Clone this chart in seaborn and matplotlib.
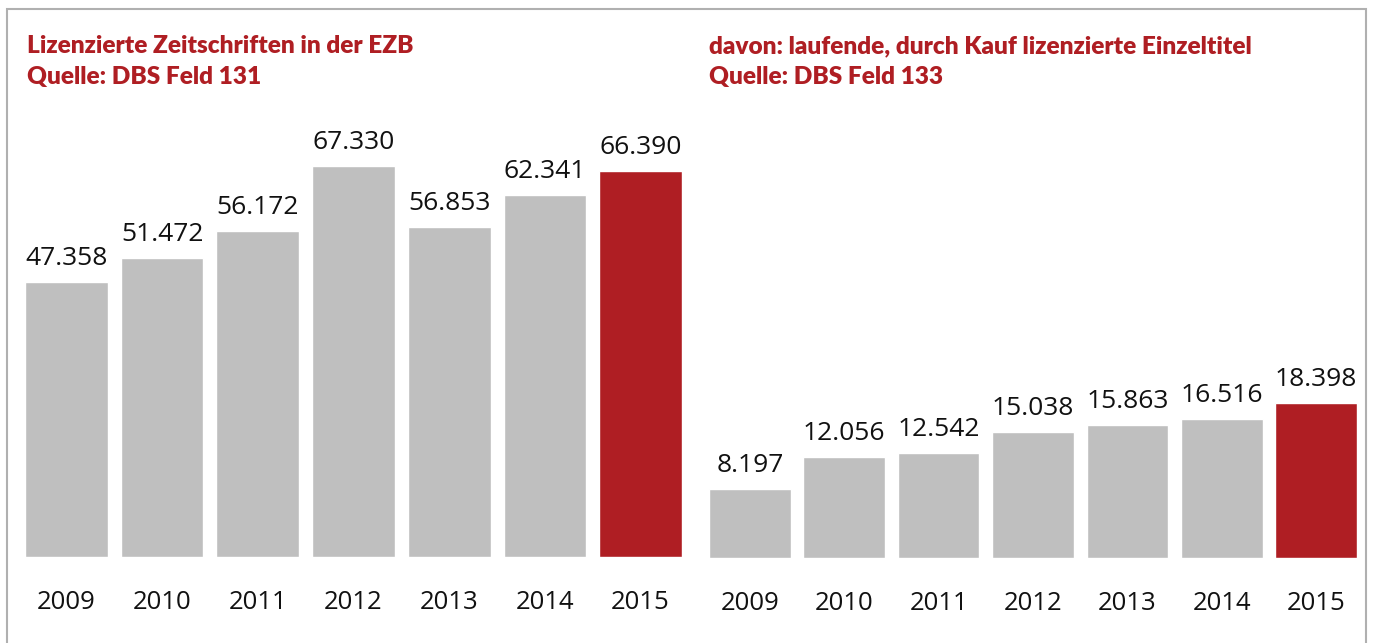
import matplotlib
matplotlib.use("Agg")
import matplotlib.pyplot as plt
import seaborn as sns
import pandas as pd
from matplotlib.patches import Rectangle

years = ["2009", "2010", "2011", "2012", "2013", "2014", "2015"]
zeitschriften = [47358, 51472, 56172, 67330, 56853, 62341, 66390]
einzeltitel = [8197, 12056, 12542, 15038, 15863, 16516, 18398]

title_left = "Lizenzierte Zeitschriften in der EZB\nQuelle: DBS Feld 131"
title_right = "davon: laufende, durch Kauf lizenzierte Einzeltitel\nQuelle: DBS Feld 133"

GRAY = "#bfbfbf"
RED = "#af1e23"

sns.set_style("white")
plt.rcParams["font.family"] = ["Open Sans", "DejaVu Sans"]

fig = plt.figure(figsize=(13.73, 6.43), dpi=100)
W, H = 1373, 643


def px_axes(x0, x1, y_top, y_base):
    return fig.add_axes([x0 / W, 1 - y_base / H, (x1 - x0) / W, (y_base - y_top) / H])


def draw_panel(ax, values, ymax):
    df = pd.DataFrame({"year": years, "value": values})
    palette = [GRAY] * (len(years) - 1) + [RED]
    sns.barplot(data=df, x="year", y="value", hue="year", palette=palette,
                legend=False, width=0.865, saturation=1, ax=ax)
    for c in ax.containers:
        labels = [f"{v:,.0f}".replace(",", ".") for v in c.datavalues]
        ax.bar_label(c, labels=labels, padding=8, fontsize=19, color="#111111")
    ax.set_xlim(-0.4325, 6.4325)
    ax.set_ylim(0, ymax)
    ax.set_xlabel("")
    ax.set_ylabel("")
    ax.set_yticks([])
    ax.tick_params(axis="x", length=0, pad=24, labelsize=18.5, labelcolor="#111111")
    sns.despine(ax=ax, left=True, bottom=True)
    ax.patch.set_alpha(0)


ax1 = px_axes(25, 682, 100, 557)
draw_panel(ax1, zeitschriften, 457 / 5.807 * 1000)

ax2 = px_axes(709, 1357, 100, 558)
draw_panel(ax2, einzeltitel, 458 / 8.4 * 1000)

title_font = dict(family=["Lato", "DejaVu Sans"], fontsize=17.6,
                  fontweight="heavy", color=RED, va="baseline", linespacing=1.5)
fig.text(27 / W, 1 - 84 / H, title_left, **title_font)
fig.text(709 / W, 1 - 84 / H, title_right, **title_font)

# frame around the graphic
fig.patches.append(Rectangle((7 / W, -0.05), (1366 - 7) / W, 1.05 - 9 / H,
                             transform=fig.transFigure, fill=False,
                             edgecolor="#b0b0b0", linewidth=1.5, zorder=0))

fig.savefig("out.png", dpi=100)
